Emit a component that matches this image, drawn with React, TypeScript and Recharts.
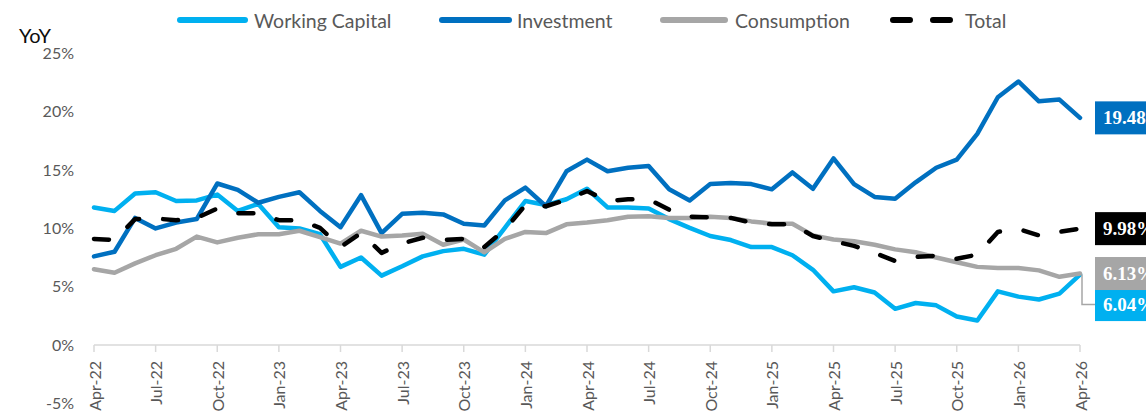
import React from 'react';
import { LineChart, Line, XAxis, YAxis, ReferenceLine } from 'recharts';

const months = [
  'Apr-22','May-22','Jun-22','Jul-22','Aug-22','Sep-22','Oct-22','Nov-22','Dec-22',
  'Jan-23','Feb-23','Mar-23','Apr-23','May-23','Jun-23','Jul-23','Aug-23','Sep-23','Oct-23','Nov-23','Dec-23',
  'Jan-24','Feb-24','Mar-24','Apr-24','May-24','Jun-24','Jul-24','Aug-24','Sep-24','Oct-24','Nov-24','Dec-24',
  'Jan-25','Feb-25','Mar-25','Apr-25','May-25','Jun-25','Jul-25','Aug-25','Sep-25','Oct-25','Nov-25','Dec-25',
  'Jan-26','Feb-26','Mar-26','Apr-26',
];

const workingCapital = [
  11.8, 11.5, 13.0, 13.1, 12.35, 12.4, 12.9, 11.5, 12.1,
  10.1, 10.0, 9.5, 6.7, 7.5, 5.95, 6.75, 7.6, 8.05, 8.25, 7.75, 10.05,
  12.35, 12.0, 12.5, 13.4, 11.8, 11.8, 11.7, 10.8, 10.05, 9.35, 9.0, 8.4,
  8.4, 7.7, 6.45, 4.6, 4.95, 4.5, 3.1, 3.6, 3.4, 2.45, 2.1, 4.6,
  4.15, 3.9, 4.4, 6.04,
];

const investment = [
  7.6, 8.0, 10.9, 10.0, 10.5, 10.8, 13.85, 13.3, 12.2,
  12.7, 13.1, 11.5, 10.1, 12.85, 9.6, 11.25, 11.35, 11.2, 10.4, 10.25, 12.4,
  13.5, 11.9, 14.9, 15.9, 14.9, 15.2, 15.35, 13.35, 12.4, 13.8, 13.9, 13.8,
  13.35, 14.8, 13.4, 16.0, 13.8, 12.7, 12.55, 13.95, 15.2, 15.9, 18.1, 21.25,
  22.6, 20.9, 21.05, 19.48,
];

const consumption = [
  6.5, 6.2, 7.0, 7.7, 8.25, 9.3, 8.8, 9.2, 9.5,
  9.5, 9.8, 9.25, 8.7, 9.8, 9.3, 9.4, 9.55, 8.6, 9.05, 7.95, 9.1,
  9.7, 9.6, 10.35, 10.5, 10.7, 11.0, 11.05, 10.9, 10.9, 11.0, 10.9, 10.6,
  10.4, 10.4, 9.4, 9.05, 8.9, 8.6, 8.2, 7.95, 7.5, 7.1, 6.7, 6.6,
  6.6, 6.4, 5.85, 6.13,
];

const total = [
  9.1, 9.0, 10.8, 10.85, 10.7, 10.9, 11.7, 11.3, 11.3,
  10.7, 10.7, 10.05, 8.4, 9.6, 7.9, 8.7, 9.2, 9.0, 9.1, 8.4, 9.9,
  12.0, 11.9, 12.45, 13.2, 12.35, 12.5, 12.5, 11.6, 11.0, 10.95, 10.9, 10.5,
  10.35, 10.35, 9.35, 8.9, 8.5, 7.9, 7.2, 7.55, 7.65, 7.4, 7.75, 9.7,
  9.95, 9.4, 9.7, 9.98,
];

const tickMonths = [
  'Apr-22','Jul-22','Oct-22','Jan-23','Apr-23','Jul-23','Oct-23','Jan-24','Apr-24',
  'Jul-24','Oct-24','Jan-25','Apr-25','Jul-25','Oct-25','Jan-26','Apr-26',
];

const yTicks = [-5, 0, 5, 10, 15, 20, 25];

const series = [
  { key: 'wc', name: 'Working Capital', color: '#00B0F0', dashed: false },
  { key: 'inv', name: 'Investment', color: '#0070C0', dashed: false },
  { key: 'cons', name: 'Consumption', color: '#A6A6A6', dashed: false },
  { key: 'total', name: 'Total', color: '#000000', dashed: true },
];

const data = months.map((m, i) => ({
  month: m,
  wc: workingCapital[i],
  inv: investment[i],
  cons: consumption[i],
  total: total[i],
}));

const FONT = 'Lato, "Open Sans", sans-serif';
const LAST = data.length - 1;

const makeEndLabel = (color: string, shift: number) => (props: any) => {
  const { x, y, value, index } = props;
  if (index !== LAST || x == null || y == null) return <g />;
  const cy = y + shift;
  return (
    <g>
      {shift !== 0 && (
        <path
          d={`M${x + 2},${y} L${x + 2},${cy} L${x + 15},${cy}`}
          stroke="#A6A6A6"
          strokeWidth={1.5}
          fill="none"
        />
      )}
      <rect x={x + 15} y={cy - 16.5} width={80} height={33} fill={color} />
      <text
        x={x + 23}
        y={cy}
        dominantBaseline="central"
        fill="#ffffff"
        fontSize={19}
        fontWeight="bold"
        fontFamily='"Liberation Serif", "DejaVu Serif", serif'
      >
        {`${Number(value).toFixed(2)}%`}
      </text>
    </g>
  );
};

const TickLabel = (text: string) => (props: any) => {
  const vb = props.viewBox || {};
  const x = vb.x;
  const y = (vb.y ?? 0) + 16;
  if (x == null) return <g />;
  return (
    <text
      x={x}
      y={y}
      transform={`rotate(-90, ${x}, ${y})`}
      textAnchor="end"
      dominantBaseline="central"
      fontSize={16}
      fill="#595959"
      fontFamily={FONT}
    >
      {text}
    </text>
  );
};

const legendPos: Record<string, { sx: number; sw: number; tx: number }> = {
  wc: { sx: 177, sw: 71, tx: 254 },
  inv: { sx: 439, sw: 73, tx: 517 },
  cons: { sx: 660, sw: 68, tx: 735 },
  total: { sx: 890, sw: 63, tx: 965 },
};

export default function App() {
  return (
    <div
      style={{
        position: 'fixed',
        left: 0,
        top: 0,
        width: 1146,
        height: 418,
        background: '#ffffff',
        overflow: 'hidden',
      }}
    >
      <svg
        width={1146}
        height={50}
        style={{ position: 'absolute', left: 0, top: 0, zIndex: 2 }}
      >
        <text x={19} y={35} dominantBaseline="central" fontSize={20} fill="#0d0d0d" fontFamily={FONT}>
          YoY
        </text>
        {series.map((s) => {
          const p = legendPos[s.key];
          return (
            <g key={s.key}>
              <line
                x1={p.sx + 3}
                x2={p.sx + p.sw - 3}
                y1={20}
                y2={20}
                stroke={s.color}
                strokeWidth={6}
                strokeLinecap="round"
                strokeDasharray={s.dashed ? '17 23' : undefined}
              />
              <text
                x={p.tx}
                y={20}
                dominantBaseline="central"
                fontSize={19.5}
                fill="#595959"
                fontFamily={FONT}
              >
                {s.name}
              </text>
            </g>
          );
        })}
      </svg>
      <div style={{ position: 'absolute', left: 0, top: 0 }}>
        <LineChart
          width={1146}
          height={418}
          data={data}
          margin={{ top: 53.5, right: 66, bottom: 14.7, left: 0 }}
        >
          <XAxis dataKey="month" scale="point" hide padding={{ left: 0, right: 0 }} />
          <YAxis
            domain={[-5, 25]}
            ticks={yTicks}
            width={94}
            axisLine={false}
            tickLine={false}
            tickMargin={14}
            interval={0}
            tickFormatter={(v: number) => `${v}%`}
            tick={{ fontSize: 16, fill: '#595959', fontFamily: FONT }}
          />
          <ReferenceLine y={0} stroke="#D9D9D9" strokeWidth={1.5} />
          {tickMonths.map((m) => (
            <ReferenceLine
              key={m}
              segment={[
                { x: m, y: 0 },
                { x: m, y: -0.6 },
              ]}
              stroke="#D9D9D9"
              strokeWidth={1.5}
              label={TickLabel(m)}
            />
          ))}
          {series.map((s) => (
            <Line
              key={s.key}
              type="linear"
              dataKey={s.key}
              name={s.name}
              stroke={s.color}
              strokeWidth={4.5}
              strokeDasharray={s.dashed ? '15 24' : undefined}
              strokeLinecap="round"
              strokeLinejoin="round"
              dot={false}
              activeDot={false}
              isAnimationActive={false}
              label={makeEndLabel(s.color, s.key === 'wc' ? 30 : 0)}
            />
          ))}
        </LineChart>
      </div>
    </div>
  );
}
